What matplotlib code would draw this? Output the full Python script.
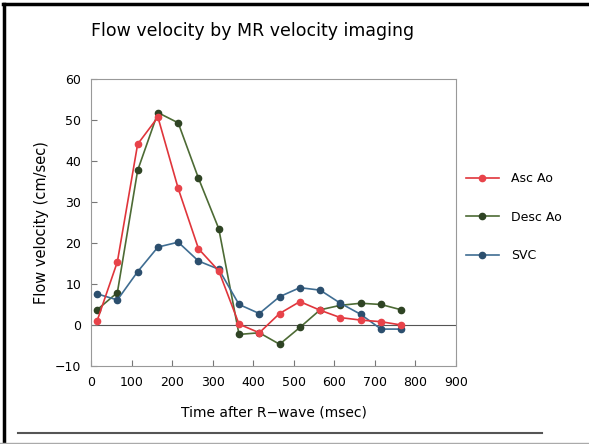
import matplotlib.pyplot as plt
from matplotlib.lines import Line2D

# time after R-wave (msec)
time_ms = [15, 65, 115, 165, 215, 265, 315, 365, 415, 465, 515, 565, 615, 665, 715, 765]

asc_ao = [1.0, 15.4, 44.1, 50.7, 33.3, 18.6, 13.2, 0.2, -1.9, 2.8, 5.7, 3.6, 1.8, 1.2, 0.8, 0.0]
desc_ao = [3.7, 7.9, 37.7, 51.8, 49.3, 35.8, 23.5, -2.3, -1.9, -4.7, -0.6, 3.7, 4.8, 5.3, 5.0, 3.7]
svc = [7.6, 6.1, 13.0, 19.0, 20.2, 15.6, 13.6, 5.0, 2.8, 6.9, 9.1, 8.5, 5.3, 2.6, -1.0, -1.0]

x_ticks = [0, 100, 200, 300, 400, 500, 600, 700, 800, 900]
y_ticks = [-10, 0, 10, 20, 30, 40, 50, 60]

fig = plt.figure(figsize=(5.89, 4.44), dpi=100)
ax = fig.add_axes([0.1545, 0.1757, 0.6197, 0.6464])

ax.axhline(0, color='#555555', lw=0.8, zorder=1)

ax.plot(time_ms, asc_ao, color='#e0353b', lw=1.2, marker='o', ms=4.5,
        mfc='#e8434a', mec='#e8434a', label='Asc Ao', zorder=3)
ax.plot(time_ms, desc_ao, color='#4d6b35', lw=1.2, marker='o', ms=4.5,
        mfc='#2f4424', mec='#2f4424', label='Desc Ao', zorder=2)
ax.plot(time_ms, svc, color='#3f6d92', lw=1.2, marker='o', ms=4.5,
        mfc='#2c4f6e', mec='#2c4f6e', label='SVC', zorder=2)

ax.set_xlim(0, 900)
ax.set_ylim(-10, 60)
ax.set_xticks(x_ticks)
ax.set_yticks(y_ticks)
ax.set_yticklabels(['\u221210' if v == -10 else str(v) for v in y_ticks])
ax.tick_params(direction='in', length=4, width=0.8, color='#777777',
               labelsize=9, pad=7)
for s in ax.spines.values():
    s.set_color('#999999')
    s.set_linewidth(0.8)

ax.set_xlabel('Time after R\u2212wave (msec)', fontsize=10, labelpad=12)
ax.set_ylabel('Flow velocity (cm/sec)', fontsize=10.5, labelpad=4)
fig.text(0.155, 0.93, 'Flow velocity by MR velocity imaging', fontsize=12.5,
         ha='left', va='center')

ax.legend(loc='center left', bbox_to_anchor=(0.783, 0.511), bbox_transform=fig.transFigure,
          frameon=False, fontsize=9, labelspacing=2.05, handlelength=2.6,
          handletextpad=1.0, borderaxespad=0)

# scanned page frame
fig.add_artist(Line2D([0.007, 0.007], [0, 0.992], transform=fig.transFigure, color='black', lw=2.5))
fig.add_artist(Line2D([0.005, 1.0], [0.992, 0.992], transform=fig.transFigure, color='black', lw=2.5))
fig.add_artist(Line2D([0.03, 0.92], [0.025, 0.025], transform=fig.transFigure, color='#555555', lw=1.5))
fig.add_artist(Line2D([0.0, 1.0], [0.003, 0.003], transform=fig.transFigure, color='#aaaaaa', lw=1))

fig.savefig('out.png', dpi=100)
